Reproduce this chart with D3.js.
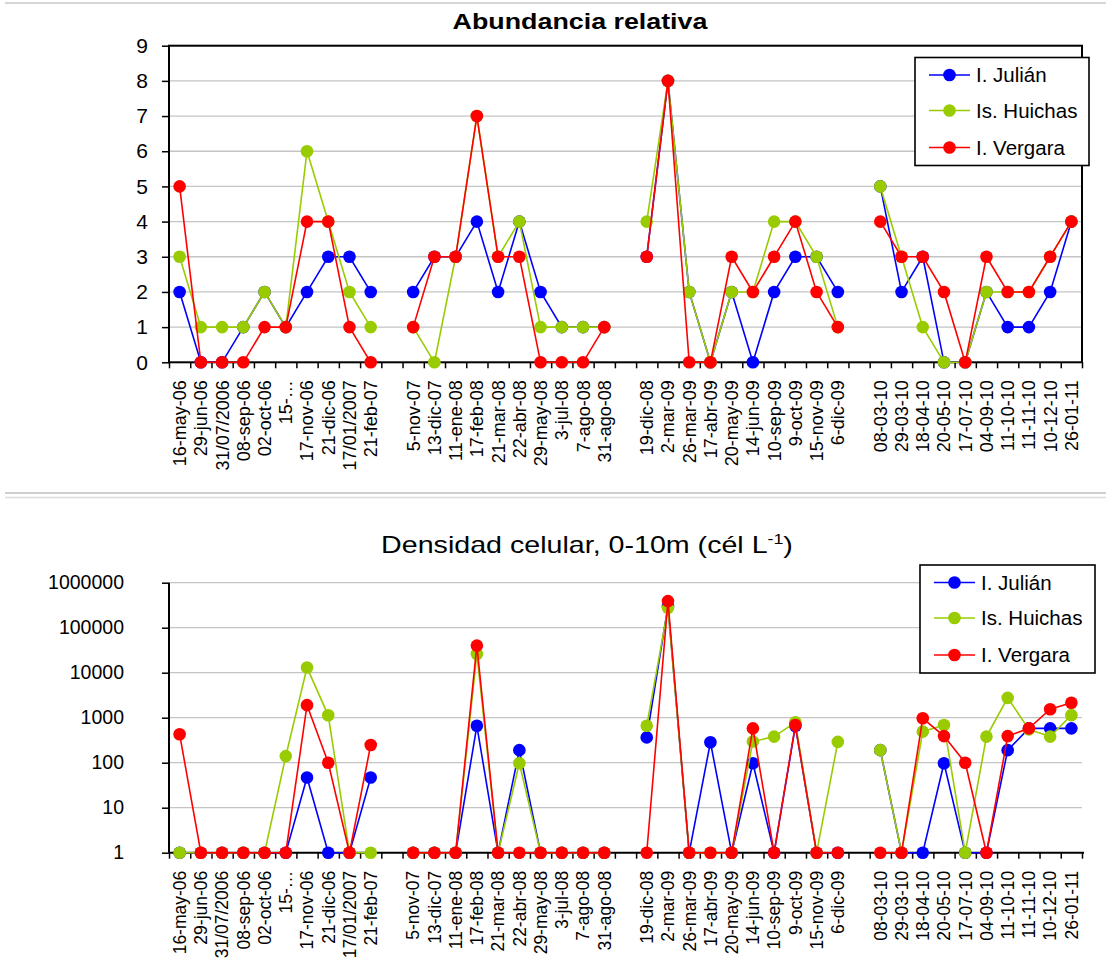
<!DOCTYPE html>
<meta charset="utf-8">
<script src="https://d3js.org/d3.v7.min.js"></script>
<style>
  body { margin: 0; background: #fff; }
  svg text { font-family: "Liberation Sans", Arial, sans-serif; fill: #000; }
</style>
<div id="chart"></div>

<script>
    // fechas de muestreo ("" = hueco entre campañas)
    var fechas = ["16-may-06", "29-jun-06", "31/07/2006", "08-sep-06", "02-oct-06", "15-…", "17-nov-06", "21-dic-06", "17/01/2007", "21-feb-07", "",
        "5-nov-07", "13-dic-07", "11-ene-08", "17-feb-08", "21-mar-08", "22-abr-08", "29-may-08", "3-jul-08", "7-ago-08", "31-ago-08", "",
        "19-dic-08", "2-mar-09", "26-mar-09", "17-abr-09", "20-may-09", "14-jun-09", "10-sep-09", "9-oct-09", "15-nov-09", "6-dic-09", "",
        "08-03-10", "29-03-10", "18-04-10", "20-05-10", "17-07-10", "04-09-10", "11-10-10", "11-11-10", "10-12-10", "26-01-11"];

    var estaciones = ["I. Julián", "Is. Huichas", "I. Vergara"];
    var colores = ["#0000ff", "#99cc00", "#ff0000"];

    // Abundancia relativa
    var abundJulian = [2, 0, 0, 1, 2, 1, 2, 3, 3, 2, null, 2, 3, 3, 4, 2, 4, 2, 1, 1, 1, null, 3, 8, 2, 0, 2, 0, 2, 3, 3, 2, null, 5, 2, 3, 0, 0, 2, 1, 1, 2, 4];
    var abundHuichas = [3, 1, 1, 1, 2, 1, 6, 4, 2, 1, null, 1, 0, 3, 7, 3, 4, 1, 1, 1, 1, null, 4, 8, 2, 0, 2, 2, 4, 4, 3, 1, null, 5, 3, 1, 0, 0, 2, 2, 2, 3, 4];
    var abundVergara = [5, 0, 0, 0, 1, 1, 4, 4, 1, 0, null, 1, 3, 3, 7, 3, 3, 0, 0, 0, 1, null, 3, 8, 0, 0, 3, 2, 3, 4, 2, 1, null, 4, 3, 3, 2, 0, 3, 2, 2, 3, 4];
    var abundTicks = [0, 1, 2, 3, 4, 5, 6, 7, 8, 9];

    // Densidad celular, 0-10m (cél/L)
    var densJulian = [1, 1, 1, 1, 1, 1, 47, 1, 1, 47, null, 1, 1, 1, 660, 1, 190, 1, 1, 1, 1, null, 365, 300000, 1, 285, 1, 97, 1, 650, 1, 1, null, 190, 1, 1, 97, 1, 1, 190, 580, 580, 580];
    var densHuichas = [1, 1, 1, 1, 1, 140, 13000, 1130, 1, 1, null, 1, 1, 1, 26000, 1, 97, 1, 1, 1, 1, null, 660, 276000, 1, 1, 1, 295, 380, 790, 1, 290, null, 190, 1, 490, 690, 1, 380, 2760, 550, 380, 1140];
    var densVergara = [430, 1, 1, 1, 1, 1, 1900, 100, 1, 248, null, 1, 1, 1, 40000, 1, 1, 1, 1, 1, 1, null, 1, 390000, 1, 1, 1, 580, 1, 690, 1, 1, null, 1, 1, 970, 390, 100, 1, 390, 580, 1540, 2150];
    var densTicks = [1, 10, 100, 1000, 10000, 100000, 1000000];

    var width = 1106
    var height = 980

    var svg = d3.select("#chart")
        .append("svg")
        .attr("width", width)
        .attr("height", height)

    // thin frame lines of the two pasted charts
    svg.append("line").attr("x1", 5).attr("x2", width).attr("y1", 3).attr("y2", 3)
        .attr("stroke", "#c8c8c8").attr("stroke-width", 1.5)
    svg.append("line").attr("x1", 5).attr("x2", width).attr("y1", 493).attr("y2", 493)
        .attr("stroke", "#cfcfcf").attr("stroke-width", 2)
    svg.append("line").attr("x1", 5).attr("x2", width).attr("y1", 497.5).attr("y2", 497.5)
        .attr("stroke", "#dcdcdc").attr("stroke-width", 1.5)

    var x = d3.scaleBand()
        .domain(d3.range(fechas.length))
        .range([169, 1082])
    var xEdge = d3.scaleLinear()
        .domain([0, fechas.length])
        .range([169, 1082])

    function fitTitle(t, cx, target) {
        var w = t.node().getComputedTextLength()
        t.attr("transform", "translate(" + cx + ",0) scale(" + (target / w) + ",1)")
    }

    function drawPanel(p) {
        var g = svg.append("g")
        var y = p.y
        var left = xEdge.range()[0], right = xEdge.range()[1]
        var y0 = y.range()[0], y1 = y.range()[1]

        // grid
        g.append("g").selectAll("line")
            .data(p.ticks.slice(1))
            .enter().append("line")
            .attr("x1", left).attr("x2", right)
            .attr("y1", function (d) { return y(d) })
            .attr("y2", function (d) { return y(d) })
            .attr("stroke", "#c4c4c4")
            .attr("stroke-width", 1.3)

        // y axis
        var ya = g.append("g")
            .attr("transform", "translate(" + left + ",0)")
            .call(d3.axisLeft(y).tickValues(p.ticks).tickFormat(p.fmt).tickSize(7).tickPadding(p.pad))
        ya.select(".domain").remove()
        ya.selectAll(".tick line").attr("stroke", "#000").attr("stroke-width", 1.5)
        ya.selectAll(".tick text").attr("font-size", p.yFont).attr("font-family", "Liberation Sans, Arial, sans-serif")

        // x ticks at category boundaries
        var xa = g.append("g")
            .attr("transform", "translate(0," + y0 + ")")
            .call(d3.axisBottom(xEdge).tickValues(d3.range(fechas.length + 1)).tickSize(6).tickFormat(""))
        xa.select(".domain").remove()
        xa.selectAll(".tick line").attr("stroke", "#000").attr("stroke-width", 1.5)

        // x labels
        g.append("g").selectAll("text")
            .data(fechas)
            .enter().append("text")
            .attr("transform", function (d, i) {
                return "translate(" + (x(i) + x.bandwidth() / 2) + "," + (y0 + 18) + ") rotate(-90)"
            })
            .attr("text-anchor", "end")
            .attr("dy", "0.36em")
            .attr("font-size", p.xFont)
            .text(function (d) { return d })

        // axes / frame
        if (p.frame) {
            g.append("rect")
                .attr("x", left).attr("y", y1)
                .attr("width", right - left).attr("height", y0 - y1)
                .attr("fill", "none").attr("stroke", "#000").attr("stroke-width", 2)
        } else {
            g.append("line").attr("x1", left).attr("x2", left).attr("y1", y1).attr("y2", y0)
                .attr("stroke", "#000").attr("stroke-width", 2)
            g.append("line").attr("x1", left).attr("x2", right + 2).attr("y1", y0).attr("y2", y0)
                .attr("stroke", "#000").attr("stroke-width", 2)
        }

        // series
        var line = d3.line()
            .defined(function (d) { return d != null })
            .x(function (d, i) { return x(i) + x.bandwidth() / 2 })
            .y(function (d) { return y(d) })

        p.series.forEach(function (s, k) {
            g.append("path")
                .datum(s)
                .attr("fill", "none")
                .attr("stroke", colores[k])
                .attr("stroke-width", 1.6)
                .attr("d", line)
            g.append("g").selectAll("circle")
                .data(s.map(function (v, i) { return { v: v, i: i } }).filter(function (d) { return d.v != null }))
                .enter().append("circle")
                .attr("cx", function (d) { return x(d.i) + x.bandwidth() / 2 })
                .attr("cy", function (d) { return y(d.v) })
                .attr("r", 6.3)
                .attr("fill", colores[k])
        })

        // legend
        var L = p.legend
        var lg = g.append("g").attr("transform", "translate(" + L.x + "," + L.y + ")")
        lg.append("rect")
            .attr("width", L.w).attr("height", L.h)
            .attr("fill", "#fff").attr("stroke", "#000").attr("stroke-width", 1.6)
        estaciones.forEach(function (name, k) {
            var ry = L.rows[k]
            lg.append("line").attr("x1", L.lx).attr("x2", L.lx + 41).attr("y1", ry).attr("y2", ry)
                .attr("stroke", colores[k]).attr("stroke-width", 1.6)
            lg.append("circle").attr("cx", L.lx + 20.5).attr("cy", ry).attr("r", 6.3).attr("fill", colores[k])
            lg.append("text").attr("x", L.lx + 47).attr("y", ry).attr("dy", "0.36em")
                .attr("font-size", 20.5).text(name)
        })

        // title
        var t = g.append("text")
            .attr("y", p.titleY)
            .attr("text-anchor", "middle")
            .attr("font-size", p.titleSize)
            .attr("font-weight", p.titleBold ? "bold" : "normal")
        p.title(t)
        fitTitle(t, p.titleX, p.titleW)
    }

    drawPanel({
        y: d3.scaleLinear().domain([0, 9]).range([362.3, 45.7]),
        ticks: abundTicks,
        fmt: d3.format("d"),
        pad: 14,
        yFont: 21,
        xFont: 18,
        frame: true,
        series: [abundJulian, abundHuichas, abundVergara],
        legend: { x: 915, y: 57.5, w: 174, h: 108, lx: 14, rows: [17.5, 53, 90] },
        title: function (t) { t.text("Abundancia relativa") },
        titleY: 29,
        titleSize: 22,
        titleBold: true,
        titleX: 580,
        titleW: 255
    })

    drawPanel({
        y: d3.scaleLog().domain([1, 1000000]).range([852.7, 582.7]),
        ticks: densTicks,
        fmt: d3.format("d"),
        pad: 38,
        yFont: 19.5,
        xFont: 17.5,
        frame: false,
        series: [densJulian, densHuichas, densVergara],
        legend: { x: 920, y: 565, w: 175, h: 108, lx: 14, rows: [17.5, 53, 90] },
        title: function (t) {
            t.append("tspan").text("Densidad celular, 0-10m (cél L")
            t.append("tspan").attr("dy", -9).attr("font-size", "0.62em").text("-1")
            t.append("tspan").attr("dy", 9).text(")")
        },
        titleY: 553,
        titleSize: 23,
        titleBold: false,
        titleX: 587,
        titleW: 412
    })
</script>
